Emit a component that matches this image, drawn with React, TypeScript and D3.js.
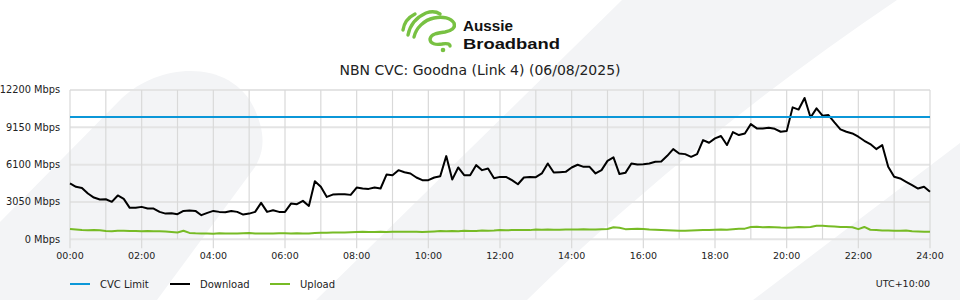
import React from 'react';
import * as d3 from 'd3';

// ---- data (10-minute samples, 00:00 → 24:00) ----
const STEP_MINUTES = 10;
const downloadMbps = [
  4560, 4290, 4200, 3740, 3410, 3250,
  3270, 3060, 3580, 3300, 2570, 2570,
  2650, 2510, 2510, 2240, 2100, 2130,
  2050, 2320, 2350, 2320, 1970, 2160,
  2320, 2240, 2210, 2320, 2240, 2020,
  2100, 2240, 2980, 2240, 2370, 2240,
  2240, 2920, 2870, 3140, 2730, 4750,
  4300, 3465, 3656, 3684, 3684, 3630,
  4230, 4150, 4120, 4230, 4150, 5290,
  5240, 5650, 5480, 5380, 5050, 4830,
  4830, 5050, 5160, 6800, 4880, 5870,
  5240, 5240, 6060, 5650, 5780, 4990,
  5100, 5100, 4830, 4500, 5050, 5100,
  5080, 5380, 6200, 5460, 5480, 5510,
  5870, 6090, 5920, 5920, 5380, 5650,
  6410, 6700, 5330, 5430, 6200, 6120,
  6140, 6200, 6330, 6360, 6820, 7370,
  7010, 6960, 6740, 6960, 8110, 7890,
  8250, 8440, 7700, 8760, 8520, 8650,
  9410, 9060, 9060, 9110, 9030, 8790,
  8840, 10780, 10600, 11550, 9950, 10700,
  10100, 10150, 9550, 8980, 8790, 8650,
  8380, 8050, 7780, 7370, 7700, 5920,
  5110, 4970, 4700, 4420, 4150, 4290,
  3880,
];
const uploadMbps = [
  840, 800, 760, 740, 770, 740,
  680, 660, 690, 690, 680, 680,
  660, 670, 660, 660, 640, 600,
  560, 700, 520, 490, 480, 470,
  460, 490, 470, 480, 470, 500,
  520, 470, 480, 470, 480, 490,
  490, 470, 500, 470, 480, 510,
  540, 540, 560, 560, 560, 580,
  600, 610, 600, 600, 610, 600,
  610, 620, 620, 610, 620, 600,
  620, 640, 670, 660, 680, 650,
  690, 680, 680, 720, 700, 720,
  760, 740, 750, 760, 760, 750,
  800, 780, 800, 790, 790, 800,
  810, 800, 830, 810, 800, 820,
  840, 980, 950, 830, 840, 860,
  840, 800, 790, 760, 730, 710,
  700, 700, 720, 740, 760, 750,
  780, 800, 790, 820, 860, 870,
  1000, 1030, 980, 1000, 990, 960,
  950, 970, 1000, 980, 1000, 1110,
  1100, 1070, 1040, 1000, 1010, 980,
  830, 1010, 780, 760, 720, 720,
  700, 690, 720, 660, 640, 620,
  610,
];
const cvcLimitMbps = 10000;
const yTicks = [0, 3050, 6100, 9150, 12200];
const xLabelHours = [0, 2, 4, 6, 8, 10, 12, 14, 16, 18, 20, 22, 24];
const gridHours = d3.range(0, 25);
const legendItems = [
  { label: 'CVC Limit', color: '#0b97d8' },
  { label: 'Download', color: '#000000' },
  { label: 'Upload', color: '#77bb25' },
];
const title = 'NBN CVC: Goodna (Link 4) (06/08/2025)';
const timezone = 'UTC+10:00';

const W = 960;
const H = 300;
const left = 70;
const right = 930;
const top = 90;
const bottom = 239.3;
const FONT = '"DejaVu Sans", sans-serif';
const BG = '#f3f4f6';

export default function App() {
  const x = d3.scaleLinear().domain([0, 1440]).range([left, right]);
  const y = d3.scaleLinear().domain([0, 12200]).range([bottom, top]);
  const line = d3
    .line<number>()
    .x((_, i) => x(i * STEP_MINUTES))
    .y((d) => y(d));
  const fmtHour = (h: number) => `${String(h).padStart(2, '0')}:00`;

  return (
    <svg
      width={W}
      height={H}
      style={{ position: 'absolute', left: 0, top: 0, display: 'block', background: '#fff' }}
    >
      {/* decorative background */}
      <path d="M0,222 L122,98 C160,62 232,58 255,110 C266,135 264,152 255,167 L157,300 L0,300 Z" fill={BG} />
      <path d="M622,0 L897,0 Q690,140 527,300 L316,300 Z" fill={BG} />
      <path d="M960,143 L960,300 L753,300 Z" fill={BG} />

      {/* logo */}
      <g fill="none" stroke="#78c142" strokeWidth={3.4} strokeLinecap="round" strokeLinejoin="round">
        <path d="M403,30 C404,23 409,17 415,14" />
        <path d="M408,35 C410,25 417,17 426,13 C432,11 437,12 440,14" />
        <path d="M414,37 C416,28 424,20 434,18 C443,16 451,18 454,23 C456,28 451,31 445,32 C437,33 431,34 430,39 C430,44 436,45 442,44 C447,43 450,44 450,46" />
      </g>
      <circle cx={443} cy={50} r={2.3} fill="#78c142" />
      <text x={463} y={31} fontFamily='"Liberation Sans", Arial, sans-serif' fontWeight="bold" fontSize={15.5} textLength={50} lengthAdjust="spacingAndGlyphs" fill="#111">Aussie</text>
      <text x={463} y={48.5} fontFamily='"Liberation Sans", Arial, sans-serif' fontWeight="bold" fontSize={15.5} textLength={97} lengthAdjust="spacingAndGlyphs" fill="#111">Broadband</text>

      {/* title */}
      <text x={480} y={70} dy="0.35em" textAnchor="middle" fontFamily={FONT} fontSize={14} fill="#222">{title}</text>

      {/* grid */}
      {yTicks.map((t) => (
        <line key={`h${t}`} x1={left} x2={right} y1={y(t)} y2={y(t)} stroke="#e4e4e4" strokeWidth={2} />
      ))}
      {gridHours.map((h) => (
        <line
          key={`v${h}`}
          x1={x(h * 60)}
          x2={x(h * 60)}
          y1={top}
          y2={h % 2 === 0 ? bottom + 9 : bottom}
          stroke="#d9d9d9"
          strokeWidth={1.2}
        />
      ))}

      {/* axis labels */}
      {yTicks.map((t) => (
        <text key={`yl${t}`} x={60} y={y(t)} dy="0.35em" textAnchor="end" fontFamily={FONT} fontSize={9.8} fill="#222">
          {`${t} Mbps`}
        </text>
      ))}
      {xLabelHours.map((h) => (
        <text key={`xl${h}`} x={x(h * 60)} y={256} dy="0.35em" textAnchor="middle" fontFamily={FONT} fontSize={9.5} fill="#222">
          {fmtHour(h)}
        </text>
      ))}

      {/* series */}
      <path d={line(downloadMbps) || ''} fill="none" stroke={legendItems[1].color} strokeWidth={2} strokeLinejoin="round" />
      <path d={line(uploadMbps) || ''} fill="none" stroke={legendItems[2].color} strokeWidth={2} strokeLinejoin="round" />
      <line x1={left} x2={right} y1={y(cvcLimitMbps)} y2={y(cvcLimitMbps)} stroke={legendItems[0].color} strokeWidth={2} />

      {/* legend */}
      {legendItems.map((it, i) => (
        <g key={it.label} transform={`translate(${70 + i * 100},284)`}>
          <line x1={0} x2={20} y1={0} y2={0} stroke={it.color} strokeWidth={2} />
          <text x={30} y={0} dy="0.35em" fontFamily={FONT} fontSize={10} fill="#222">{it.label}</text>
        </g>
      ))}
      <text x={930} y={284} dy="0.35em" textAnchor="end" fontFamily={FONT} fontSize={9.5} fill="#222">{timezone}</text>
    </svg>
  );
}
